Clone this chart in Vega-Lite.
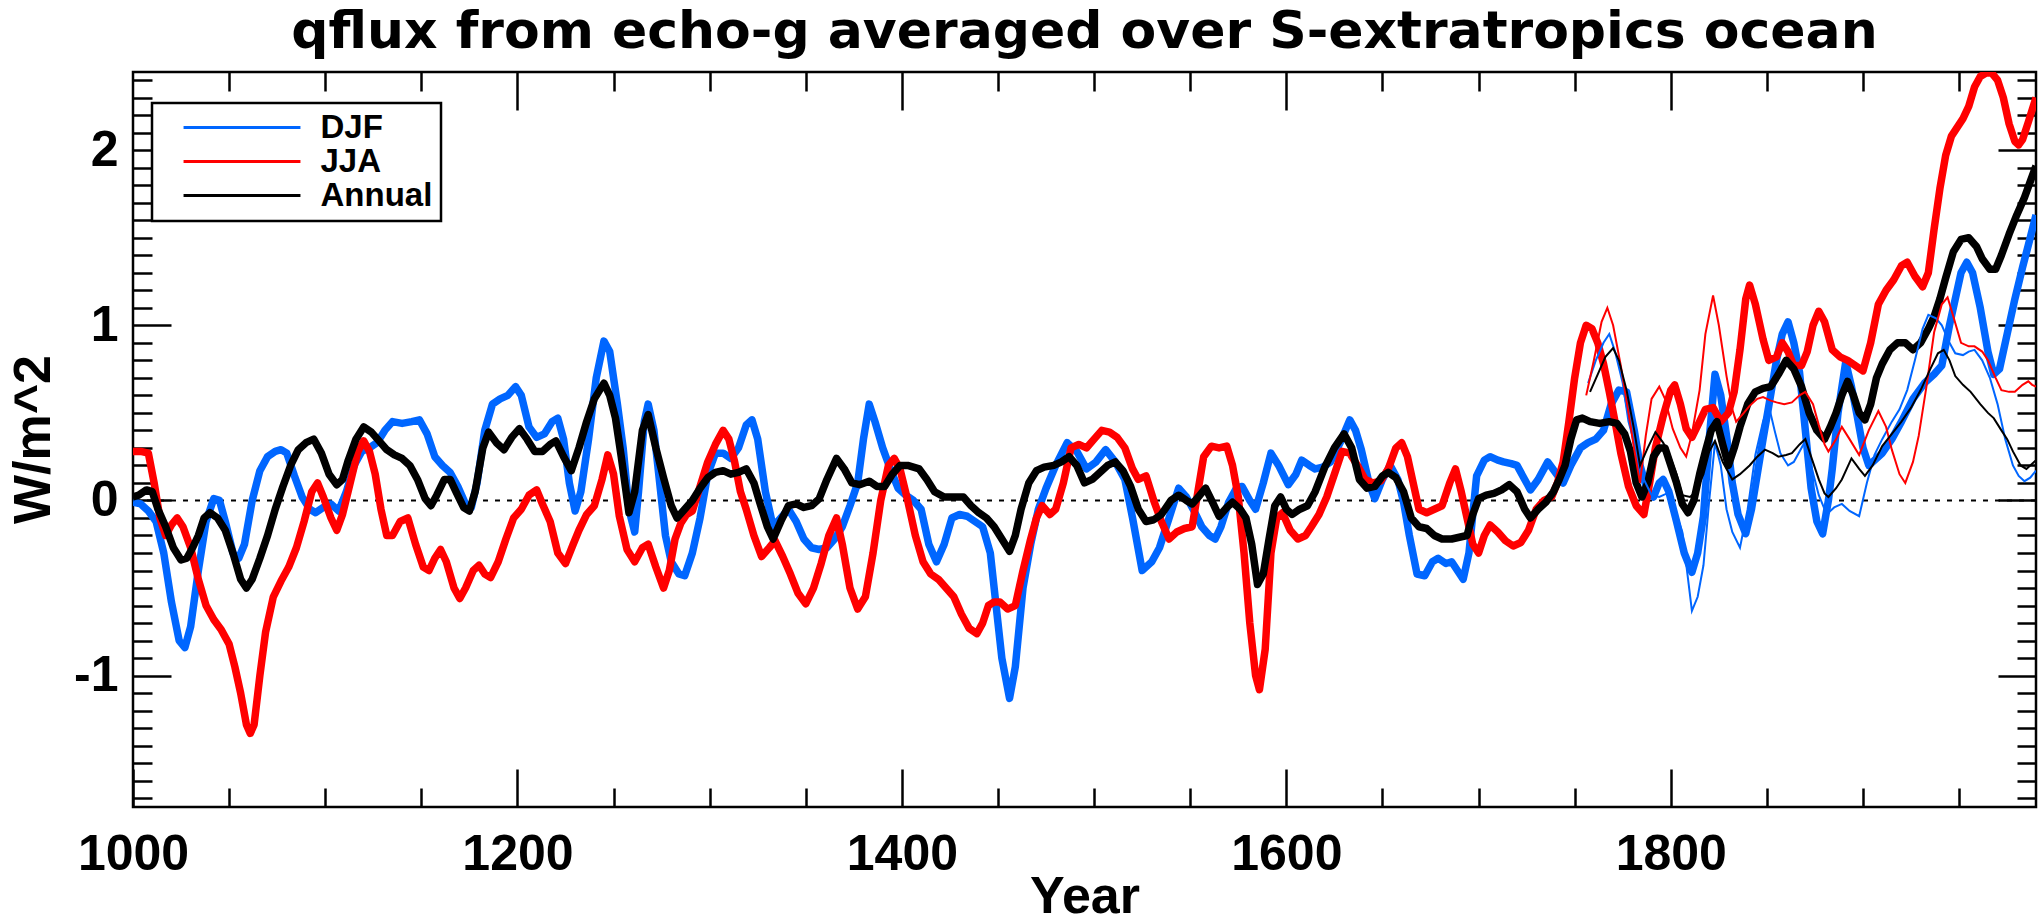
{
"$schema": "https://vega.github.io/schema/vega-lite/v6.json",
"width": 1903, "height": 735,
"autosize": {"type": "none"},
"padding": {"left": 133, "top": 72, "right": 3, "bottom": 117},
"background": "white",
"config": {"view": {"stroke": "black", "strokeWidth": 2.5}, "font": "Liberation Sans", "legend": {"strokeWidth": 2.5}},
"title": {"text": "qflux from echo-g averaged over S-extratropics ocean", "font": "DejaVu Sans", "fontWeight": "bold", "fontSize": 52, "anchor": "middle", "baseline": "alphabetic", "offset": -29, "frame": "group", "color": "black"},
"datasets": {
"series": [
{"season":"DJF","kind":"full","year":1000,"value":-0.01},{"season":"DJF","kind":"full","year":1004,"value":-0.02},{"season":"DJF","kind":"full","year":1008,"value":-0.06},{"season":"DJF","kind":"full","year":1012,"value":-0.12},{"season":"DJF","kind":"full","year":1016,"value":-0.3},{"season":"DJF","kind":"full","year":1020,"value":-0.58},{"season":"DJF","kind":"full","year":1024,"value":-0.8},{"season":"DJF","kind":"full","year":1027,"value":-0.84},{"season":"DJF","kind":"full","year":1030,"value":-0.72},{"season":"DJF","kind":"full","year":1034,"value":-0.4},{"season":"DJF","kind":"full","year":1038,"value":-0.12},{"season":"DJF","kind":"full","year":1042,"value":0.01},{"season":"DJF","kind":"full","year":1045,"value":0.0},{"season":"DJF","kind":"full","year":1048,"value":-0.12},{"season":"DJF","kind":"full","year":1052,"value":-0.3},{"season":"DJF","kind":"full","year":1055,"value":-0.33},{"season":"DJF","kind":"full","year":1058,"value":-0.25},{"season":"DJF","kind":"full","year":1062,"value":0.0},{"season":"DJF","kind":"full","year":1066,"value":0.17},{"season":"DJF","kind":"full","year":1070,"value":0.25},{"season":"DJF","kind":"full","year":1074,"value":0.28},{"season":"DJF","kind":"full","year":1077,"value":0.29},{"season":"DJF","kind":"full","year":1080,"value":0.27},{"season":"DJF","kind":"full","year":1084,"value":0.14},{"season":"DJF","kind":"full","year":1088,"value":0.02},{"season":"DJF","kind":"full","year":1092,"value":-0.05},{"season":"DJF","kind":"full","year":1095,"value":-0.07},{"season":"DJF","kind":"full","year":1099,"value":-0.04},{"season":"DJF","kind":"full","year":1103,"value":-0.02},{"season":"DJF","kind":"full","year":1107,"value":-0.06},{"season":"DJF","kind":"full","year":1111,"value":0.05},{"season":"DJF","kind":"full","year":1115,"value":0.2},{"season":"DJF","kind":"full","year":1119,"value":0.28},{"season":"DJF","kind":"full","year":1123,"value":0.3},{"season":"DJF","kind":"full","year":1127,"value":0.33},{"season":"DJF","kind":"full","year":1131,"value":0.4},{"season":"DJF","kind":"full","year":1135,"value":0.45},{"season":"DJF","kind":"full","year":1140,"value":0.44},{"season":"DJF","kind":"full","year":1145,"value":0.45},{"season":"DJF","kind":"full","year":1149,"value":0.46},{"season":"DJF","kind":"full","year":1153,"value":0.38},{"season":"DJF","kind":"full","year":1157,"value":0.25},{"season":"DJF","kind":"full","year":1161,"value":0.2},{"season":"DJF","kind":"full","year":1165,"value":0.16},{"season":"DJF","kind":"full","year":1169,"value":0.08},{"season":"DJF","kind":"full","year":1173,"value":-0.02},{"season":"DJF","kind":"full","year":1176,"value":-0.04},{"season":"DJF","kind":"full","year":1179,"value":0.1},{"season":"DJF","kind":"full","year":1183,"value":0.4},{"season":"DJF","kind":"full","year":1187,"value":0.55},{"season":"DJF","kind":"full","year":1191,"value":0.58},{"season":"DJF","kind":"full","year":1195,"value":0.6},{"season":"DJF","kind":"full","year":1199,"value":0.65},{"season":"DJF","kind":"full","year":1202,"value":0.6},{"season":"DJF","kind":"full","year":1206,"value":0.42},{"season":"DJF","kind":"full","year":1210,"value":0.36},{"season":"DJF","kind":"full","year":1214,"value":0.38},{"season":"DJF","kind":"full","year":1218,"value":0.45},{"season":"DJF","kind":"full","year":1221,"value":0.47},{"season":"DJF","kind":"full","year":1224,"value":0.35},{"season":"DJF","kind":"full","year":1227,"value":0.1},{"season":"DJF","kind":"full","year":1230,"value":-0.06},{"season":"DJF","kind":"full","year":1233,"value":0.05},{"season":"DJF","kind":"full","year":1237,"value":0.35},{"season":"DJF","kind":"full","year":1241,"value":0.7},{"season":"DJF","kind":"full","year":1245,"value":0.91},{"season":"DJF","kind":"full","year":1248,"value":0.85},{"season":"DJF","kind":"full","year":1252,"value":0.55},{"season":"DJF","kind":"full","year":1255,"value":0.3},{"season":"DJF","kind":"full","year":1258,"value":-0.05},{"season":"DJF","kind":"full","year":1261,"value":-0.18},{"season":"DJF","kind":"full","year":1263,"value":0.05},{"season":"DJF","kind":"full","year":1266,"value":0.45},{"season":"DJF","kind":"full","year":1268,"value":0.55},{"season":"DJF","kind":"full","year":1271,"value":0.4},{"season":"DJF","kind":"full","year":1274,"value":0.1},{"season":"DJF","kind":"full","year":1277,"value":-0.2},{"season":"DJF","kind":"full","year":1280,"value":-0.35},{"season":"DJF","kind":"full","year":1284,"value":-0.42},{"season":"DJF","kind":"full","year":1287,"value":-0.43},{"season":"DJF","kind":"full","year":1291,"value":-0.3},{"season":"DJF","kind":"full","year":1295,"value":-0.1},{"season":"DJF","kind":"full","year":1299,"value":0.15},{"season":"DJF","kind":"full","year":1303,"value":0.27},{"season":"DJF","kind":"full","year":1307,"value":0.27},{"season":"DJF","kind":"full","year":1311,"value":0.24},{"season":"DJF","kind":"full","year":1315,"value":0.3},{"season":"DJF","kind":"full","year":1319,"value":0.43},{"season":"DJF","kind":"full","year":1322,"value":0.46},{"season":"DJF","kind":"full","year":1325,"value":0.35},{"season":"DJF","kind":"full","year":1329,"value":0.05},{"season":"DJF","kind":"full","year":1333,"value":-0.15},{"season":"DJF","kind":"full","year":1337,"value":-0.1},{"season":"DJF","kind":"full","year":1341,"value":-0.05},{"season":"DJF","kind":"full","year":1345,"value":-0.12},{"season":"DJF","kind":"full","year":1349,"value":-0.22},{"season":"DJF","kind":"full","year":1353,"value":-0.27},{"season":"DJF","kind":"full","year":1357,"value":-0.28},{"season":"DJF","kind":"full","year":1361,"value":-0.27},{"season":"DJF","kind":"full","year":1365,"value":-0.22},{"season":"DJF","kind":"full","year":1369,"value":-0.15},{"season":"DJF","kind":"full","year":1373,"value":-0.03},{"season":"DJF","kind":"full","year":1377,"value":0.1},{"season":"DJF","kind":"full","year":1380,"value":0.35},{"season":"DJF","kind":"full","year":1383,"value":0.55},{"season":"DJF","kind":"full","year":1386,"value":0.45},{"season":"DJF","kind":"full","year":1390,"value":0.3},{"season":"DJF","kind":"full","year":1394,"value":0.18},{"season":"DJF","kind":"full","year":1398,"value":0.07},{"season":"DJF","kind":"full","year":1402,"value":0.03},{"season":"DJF","kind":"full","year":1406,"value":0.0},{"season":"DJF","kind":"full","year":1410,"value":-0.05},{"season":"DJF","kind":"full","year":1414,"value":-0.25},{"season":"DJF","kind":"full","year":1418,"value":-0.35},{"season":"DJF","kind":"full","year":1422,"value":-0.25},{"season":"DJF","kind":"full","year":1426,"value":-0.1},{"season":"DJF","kind":"full","year":1430,"value":-0.08},{"season":"DJF","kind":"full","year":1434,"value":-0.09},{"season":"DJF","kind":"full","year":1438,"value":-0.12},{"season":"DJF","kind":"full","year":1442,"value":-0.15},{"season":"DJF","kind":"full","year":1446,"value":-0.3},{"season":"DJF","kind":"full","year":1449,"value":-0.6},{"season":"DJF","kind":"full","year":1452,"value":-0.9},{"season":"DJF","kind":"full","year":1456,"value":-1.13},{"season":"DJF","kind":"full","year":1459,"value":-0.95},{"season":"DJF","kind":"full","year":1463,"value":-0.5},{"season":"DJF","kind":"full","year":1467,"value":-0.25},{"season":"DJF","kind":"full","year":1471,"value":-0.05},{"season":"DJF","kind":"full","year":1475,"value":0.07},{"season":"DJF","kind":"full","year":1480,"value":0.2},{"season":"DJF","kind":"full","year":1486,"value":0.33},{"season":"DJF","kind":"full","year":1491,"value":0.28},{"season":"DJF","kind":"full","year":1496,"value":0.18},{"season":"DJF","kind":"full","year":1501,"value":0.22},{"season":"DJF","kind":"full","year":1506,"value":0.29},{"season":"DJF","kind":"full","year":1511,"value":0.22},{"season":"DJF","kind":"full","year":1516,"value":0.12},{"season":"DJF","kind":"full","year":1520,"value":-0.1},{"season":"DJF","kind":"full","year":1525,"value":-0.4},{"season":"DJF","kind":"full","year":1530,"value":-0.35},{"season":"DJF","kind":"full","year":1534,"value":-0.27},{"season":"DJF","kind":"full","year":1539,"value":-0.1},{"season":"DJF","kind":"full","year":1544,"value":0.07},{"season":"DJF","kind":"full","year":1548,"value":0.02},{"season":"DJF","kind":"full","year":1552,"value":-0.06},{"season":"DJF","kind":"full","year":1556,"value":-0.15},{"season":"DJF","kind":"full","year":1560,"value":-0.2},{"season":"DJF","kind":"full","year":1563,"value":-0.22},{"season":"DJF","kind":"full","year":1566,"value":-0.15},{"season":"DJF","kind":"full","year":1570,"value":-0.01},{"season":"DJF","kind":"full","year":1574,"value":0.07},{"season":"DJF","kind":"full","year":1577,"value":0.08},{"season":"DJF","kind":"full","year":1581,"value":0.0},{"season":"DJF","kind":"full","year":1584,"value":-0.05},{"season":"DJF","kind":"full","year":1588,"value":0.1},{"season":"DJF","kind":"full","year":1592,"value":0.27},{"season":"DJF","kind":"full","year":1596,"value":0.2},{"season":"DJF","kind":"full","year":1601,"value":0.09},{"season":"DJF","kind":"full","year":1605,"value":0.15},{"season":"DJF","kind":"full","year":1608,"value":0.23},{"season":"DJF","kind":"full","year":1612,"value":0.2},{"season":"DJF","kind":"full","year":1615,"value":0.18},{"season":"DJF","kind":"full","year":1619,"value":0.19},{"season":"DJF","kind":"full","year":1623,"value":0.22},{"season":"DJF","kind":"full","year":1628,"value":0.33},{"season":"DJF","kind":"full","year":1633,"value":0.46},{"season":"DJF","kind":"full","year":1636,"value":0.4},{"season":"DJF","kind":"full","year":1639,"value":0.29},{"season":"DJF","kind":"full","year":1643,"value":0.1},{"season":"DJF","kind":"full","year":1646,"value":0.01},{"season":"DJF","kind":"full","year":1650,"value":0.12},{"season":"DJF","kind":"full","year":1654,"value":0.2},{"season":"DJF","kind":"full","year":1658,"value":0.12},{"season":"DJF","kind":"full","year":1661,"value":-0.01},{"season":"DJF","kind":"full","year":1664,"value":-0.2},{"season":"DJF","kind":"full","year":1668,"value":-0.42},{"season":"DJF","kind":"full","year":1672,"value":-0.43},{"season":"DJF","kind":"full","year":1676,"value":-0.35},{"season":"DJF","kind":"full","year":1679,"value":-0.33},{"season":"DJF","kind":"full","year":1683,"value":-0.36},{"season":"DJF","kind":"full","year":1686,"value":-0.35},{"season":"DJF","kind":"full","year":1689,"value":-0.4},{"season":"DJF","kind":"full","year":1692,"value":-0.45},{"season":"DJF","kind":"full","year":1695,"value":-0.3},{"season":"DJF","kind":"full","year":1699,"value":0.14},{"season":"DJF","kind":"full","year":1703,"value":0.23},{"season":"DJF","kind":"full","year":1706,"value":0.25},{"season":"DJF","kind":"full","year":1710,"value":0.23},{"season":"DJF","kind":"full","year":1713,"value":0.22},{"season":"DJF","kind":"full","year":1717,"value":0.21},{"season":"DJF","kind":"full","year":1720,"value":0.2},{"season":"DJF","kind":"full","year":1724,"value":0.12},{"season":"DJF","kind":"full","year":1727,"value":0.06},{"season":"DJF","kind":"full","year":1731,"value":0.12},{"season":"DJF","kind":"full","year":1736,"value":0.22},{"season":"DJF","kind":"full","year":1740,"value":0.16},{"season":"DJF","kind":"full","year":1744,"value":0.1},{"season":"DJF","kind":"full","year":1748,"value":0.2},{"season":"DJF","kind":"full","year":1753,"value":0.3},{"season":"DJF","kind":"full","year":1757,"value":0.33},{"season":"DJF","kind":"full","year":1761,"value":0.35},{"season":"DJF","kind":"full","year":1765,"value":0.4},{"season":"DJF","kind":"full","year":1769,"value":0.55},{"season":"DJF","kind":"full","year":1773,"value":0.63},{"season":"DJF","kind":"full","year":1777,"value":0.62},{"season":"DJF","kind":"full","year":1781,"value":0.4},{"season":"DJF","kind":"full","year":1784,"value":0.2},{"season":"DJF","kind":"full","year":1788,"value":0.05},{"season":"DJF","kind":"full","year":1791,"value":0.02},{"season":"DJF","kind":"full","year":1794,"value":0.1},{"season":"DJF","kind":"full","year":1796,"value":0.12},{"season":"DJF","kind":"full","year":1799,"value":0.05},{"season":"DJF","kind":"full","year":1803,"value":-0.12},{"season":"DJF","kind":"full","year":1807,"value":-0.3},{"season":"DJF","kind":"full","year":1811,"value":-0.41},{"season":"DJF","kind":"full","year":1814,"value":-0.3},{"season":"DJF","kind":"full","year":1817,"value":-0.09},{"season":"DJF","kind":"full","year":1820,"value":0.35},{"season":"DJF","kind":"full","year":1823,"value":0.72},{"season":"DJF","kind":"full","year":1826,"value":0.6},{"season":"DJF","kind":"full","year":1829,"value":0.37},{"season":"DJF","kind":"full","year":1832,"value":0.1},{"season":"DJF","kind":"full","year":1835,"value":-0.08},{"season":"DJF","kind":"full","year":1839,"value":-0.19},{"season":"DJF","kind":"full","year":1842,"value":-0.05},{"season":"DJF","kind":"full","year":1845,"value":0.15},{"season":"DJF","kind":"full","year":1848,"value":0.35},{"season":"DJF","kind":"full","year":1851,"value":0.54},{"season":"DJF","kind":"full","year":1855,"value":0.8},{"season":"DJF","kind":"full","year":1858,"value":0.95},{"season":"DJF","kind":"full","year":1861,"value":1.02},{"season":"DJF","kind":"full","year":1864,"value":0.9},{"season":"DJF","kind":"full","year":1867,"value":0.73},{"season":"DJF","kind":"full","year":1870,"value":0.4},{"season":"DJF","kind":"full","year":1873,"value":0.07},{"season":"DJF","kind":"full","year":1876,"value":-0.12},{"season":"DJF","kind":"full","year":1879,"value":-0.19},{"season":"DJF","kind":"full","year":1882,"value":0.0},{"season":"DJF","kind":"full","year":1884,"value":0.18},{"season":"DJF","kind":"full","year":1887,"value":0.5},{"season":"DJF","kind":"full","year":1891,"value":0.79},{"season":"DJF","kind":"full","year":1894,"value":0.65},{"season":"DJF","kind":"full","year":1897,"value":0.48},{"season":"DJF","kind":"full","year":1900,"value":0.3},{"season":"DJF","kind":"full","year":1903,"value":0.2},{"season":"DJF","kind":"full","year":1907,"value":0.24},{"season":"DJF","kind":"full","year":1910,"value":0.27},{"season":"DJF","kind":"full","year":1915,"value":0.35},{"season":"DJF","kind":"full","year":1920,"value":0.45},{"season":"DJF","kind":"full","year":1926,"value":0.58},{"season":"DJF","kind":"full","year":1932,"value":0.67},{"season":"DJF","kind":"full","year":1937,"value":0.72},{"season":"DJF","kind":"full","year":1941,"value":0.77},{"season":"DJF","kind":"full","year":1945,"value":1.0},{"season":"DJF","kind":"full","year":1948,"value":1.15},{"season":"DJF","kind":"full","year":1951,"value":1.3},{"season":"DJF","kind":"full","year":1954,"value":1.36},{"season":"DJF","kind":"full","year":1957,"value":1.3},{"season":"DJF","kind":"full","year":1961,"value":1.1},{"season":"DJF","kind":"full","year":1965,"value":0.85},{"season":"DJF","kind":"full","year":1968,"value":0.72},{"season":"DJF","kind":"full","year":1971,"value":0.75},{"season":"DJF","kind":"full","year":1975,"value":0.95},{"season":"DJF","kind":"full","year":1979,"value":1.15},{"season":"DJF","kind":"full","year":1983,"value":1.33},{"season":"DJF","kind":"full","year":1987,"value":1.5},{"season":"DJF","kind":"full","year":1990,"value":1.63},

{"season":"JJA","kind":"full","year":1000,"value":0.28},{"season":"JJA","kind":"full","year":1004,"value":0.28},{"season":"JJA","kind":"full","year":1008,"value":0.27},{"season":"JJA","kind":"full","year":1011,"value":0.1},{"season":"JJA","kind":"full","year":1014,"value":-0.1},{"season":"JJA","kind":"full","year":1017,"value":-0.2},{"season":"JJA","kind":"full","year":1020,"value":-0.14},{"season":"JJA","kind":"full","year":1023,"value":-0.1},{"season":"JJA","kind":"full","year":1026,"value":-0.15},{"season":"JJA","kind":"full","year":1030,"value":-0.27},{"season":"JJA","kind":"full","year":1034,"value":-0.45},{"season":"JJA","kind":"full","year":1038,"value":-0.6},{"season":"JJA","kind":"full","year":1042,"value":-0.68},{"season":"JJA","kind":"full","year":1046,"value":-0.74},{"season":"JJA","kind":"full","year":1050,"value":-0.82},{"season":"JJA","kind":"full","year":1053,"value":-0.95},{"season":"JJA","kind":"full","year":1056,"value":-1.1},{"season":"JJA","kind":"full","year":1059,"value":-1.28},{"season":"JJA","kind":"full","year":1061,"value":-1.33},{"season":"JJA","kind":"full","year":1063,"value":-1.28},{"season":"JJA","kind":"full","year":1066,"value":-1.0},{"season":"JJA","kind":"full","year":1069,"value":-0.75},{"season":"JJA","kind":"full","year":1073,"value":-0.55},{"season":"JJA","kind":"full","year":1077,"value":-0.46},{"season":"JJA","kind":"full","year":1081,"value":-0.38},{"season":"JJA","kind":"full","year":1085,"value":-0.27},{"season":"JJA","kind":"full","year":1089,"value":-0.12},{"season":"JJA","kind":"full","year":1093,"value":0.05},{"season":"JJA","kind":"full","year":1096,"value":0.1},{"season":"JJA","kind":"full","year":1099,"value":0.02},{"season":"JJA","kind":"full","year":1103,"value":-0.1},{"season":"JJA","kind":"full","year":1106,"value":-0.17},{"season":"JJA","kind":"full","year":1109,"value":-0.08},{"season":"JJA","kind":"full","year":1113,"value":0.1},{"season":"JJA","kind":"full","year":1117,"value":0.28},{"season":"JJA","kind":"full","year":1120,"value":0.34},{"season":"JJA","kind":"full","year":1123,"value":0.28},{"season":"JJA","kind":"full","year":1126,"value":0.15},{"season":"JJA","kind":"full","year":1129,"value":-0.05},{"season":"JJA","kind":"full","year":1132,"value":-0.2},{"season":"JJA","kind":"full","year":1135,"value":-0.2},{"season":"JJA","kind":"full","year":1139,"value":-0.12},{"season":"JJA","kind":"full","year":1143,"value":-0.1},{"season":"JJA","kind":"full","year":1147,"value":-0.25},{"season":"JJA","kind":"full","year":1151,"value":-0.38},{"season":"JJA","kind":"full","year":1154,"value":-0.4},{"season":"JJA","kind":"full","year":1157,"value":-0.33},{"season":"JJA","kind":"full","year":1160,"value":-0.28},{"season":"JJA","kind":"full","year":1163,"value":-0.35},{"season":"JJA","kind":"full","year":1167,"value":-0.5},{"season":"JJA","kind":"full","year":1170,"value":-0.56},{"season":"JJA","kind":"full","year":1173,"value":-0.5},{"season":"JJA","kind":"full","year":1177,"value":-0.4},{"season":"JJA","kind":"full","year":1180,"value":-0.37},{"season":"JJA","kind":"full","year":1183,"value":-0.42},{"season":"JJA","kind":"full","year":1186,"value":-0.44},{"season":"JJA","kind":"full","year":1190,"value":-0.35},{"season":"JJA","kind":"full","year":1194,"value":-0.22},{"season":"JJA","kind":"full","year":1198,"value":-0.1},{"season":"JJA","kind":"full","year":1202,"value":-0.05},{"season":"JJA","kind":"full","year":1206,"value":0.03},{"season":"JJA","kind":"full","year":1210,"value":0.06},{"season":"JJA","kind":"full","year":1213,"value":-0.02},{"season":"JJA","kind":"full","year":1217,"value":-0.12},{"season":"JJA","kind":"full","year":1221,"value":-0.3},{"season":"JJA","kind":"full","year":1225,"value":-0.36},{"season":"JJA","kind":"full","year":1229,"value":-0.25},{"season":"JJA","kind":"full","year":1232,"value":-0.17},{"season":"JJA","kind":"full","year":1236,"value":-0.08},{"season":"JJA","kind":"full","year":1240,"value":-0.03},{"season":"JJA","kind":"full","year":1244,"value":0.12},{"season":"JJA","kind":"full","year":1247,"value":0.26},{"season":"JJA","kind":"full","year":1250,"value":0.15},{"season":"JJA","kind":"full","year":1253,"value":-0.09},{"season":"JJA","kind":"full","year":1257,"value":-0.28},{"season":"JJA","kind":"full","year":1261,"value":-0.35},{"season":"JJA","kind":"full","year":1265,"value":-0.27},{"season":"JJA","kind":"full","year":1268,"value":-0.25},{"season":"JJA","kind":"full","year":1272,"value":-0.38},{"season":"JJA","kind":"full","year":1276,"value":-0.5},{"season":"JJA","kind":"full","year":1279,"value":-0.4},{"season":"JJA","kind":"full","year":1282,"value":-0.22},{"season":"JJA","kind":"full","year":1285,"value":-0.13},{"season":"JJA","kind":"full","year":1288,"value":-0.08},{"season":"JJA","kind":"full","year":1291,"value":-0.06},{"season":"JJA","kind":"full","year":1295,"value":0.08},{"season":"JJA","kind":"full","year":1299,"value":0.22},{"season":"JJA","kind":"full","year":1303,"value":0.32},{"season":"JJA","kind":"full","year":1307,"value":0.4},{"season":"JJA","kind":"full","year":1310,"value":0.35},{"season":"JJA","kind":"full","year":1313,"value":0.22},{"season":"JJA","kind":"full","year":1316,"value":0.05},{"season":"JJA","kind":"full","year":1319,"value":-0.05},{"season":"JJA","kind":"full","year":1323,"value":-0.2},{"season":"JJA","kind":"full","year":1327,"value":-0.32},{"season":"JJA","kind":"full","year":1331,"value":-0.27},{"season":"JJA","kind":"full","year":1334,"value":-0.23},{"season":"JJA","kind":"full","year":1338,"value":-0.32},{"season":"JJA","kind":"full","year":1342,"value":-0.42},{"season":"JJA","kind":"full","year":1346,"value":-0.53},{"season":"JJA","kind":"full","year":1350,"value":-0.59},{"season":"JJA","kind":"full","year":1354,"value":-0.5},{"season":"JJA","kind":"full","year":1358,"value":-0.36},{"season":"JJA","kind":"full","year":1362,"value":-0.2},{"season":"JJA","kind":"full","year":1366,"value":-0.1},{"season":"JJA","kind":"full","year":1369,"value":-0.25},{"season":"JJA","kind":"full","year":1373,"value":-0.5},{"season":"JJA","kind":"full","year":1377,"value":-0.62},{"season":"JJA","kind":"full","year":1381,"value":-0.55},{"season":"JJA","kind":"full","year":1385,"value":-0.3},{"season":"JJA","kind":"full","year":1389,"value":0.0},{"season":"JJA","kind":"full","year":1393,"value":0.2},{"season":"JJA","kind":"full","year":1396,"value":0.24},{"season":"JJA","kind":"full","year":1399,"value":0.18},{"season":"JJA","kind":"full","year":1403,"value":0.0},{"season":"JJA","kind":"full","year":1407,"value":-0.2},{"season":"JJA","kind":"full","year":1411,"value":-0.35},{"season":"JJA","kind":"full","year":1415,"value":-0.42},{"season":"JJA","kind":"full","year":1419,"value":-0.45},{"season":"JJA","kind":"full","year":1423,"value":-0.5},{"season":"JJA","kind":"full","year":1427,"value":-0.55},{"season":"JJA","kind":"full","year":1431,"value":-0.65},{"season":"JJA","kind":"full","year":1435,"value":-0.73},{"season":"JJA","kind":"full","year":1439,"value":-0.76},{"season":"JJA","kind":"full","year":1442,"value":-0.7},{"season":"JJA","kind":"full","year":1445,"value":-0.6},{"season":"JJA","kind":"full","year":1448,"value":-0.58},{"season":"JJA","kind":"full","year":1451,"value":-0.58},{"season":"JJA","kind":"full","year":1455,"value":-0.62},{"season":"JJA","kind":"full","year":1459,"value":-0.6},{"season":"JJA","kind":"full","year":1463,"value":-0.4},{"season":"JJA","kind":"full","year":1467,"value":-0.22},{"season":"JJA","kind":"full","year":1470,"value":-0.1},{"season":"JJA","kind":"full","year":1473,"value":-0.03},{"season":"JJA","kind":"full","year":1477,"value":-0.08},{"season":"JJA","kind":"full","year":1480,"value":-0.05},{"season":"JJA","kind":"full","year":1484,"value":0.1},{"season":"JJA","kind":"full","year":1488,"value":0.3},{"season":"JJA","kind":"full","year":1492,"value":0.32},{"season":"JJA","kind":"full","year":1496,"value":0.3},{"season":"JJA","kind":"full","year":1500,"value":0.35},{"season":"JJA","kind":"full","year":1504,"value":0.4},{"season":"JJA","kind":"full","year":1508,"value":0.39},{"season":"JJA","kind":"full","year":1512,"value":0.36},{"season":"JJA","kind":"full","year":1516,"value":0.3},{"season":"JJA","kind":"full","year":1520,"value":0.18},{"season":"JJA","kind":"full","year":1523,"value":0.12},{"season":"JJA","kind":"full","year":1527,"value":0.14},{"season":"JJA","kind":"full","year":1531,"value":0.0},{"season":"JJA","kind":"full","year":1535,"value":-0.12},{"season":"JJA","kind":"full","year":1539,"value":-0.22},{"season":"JJA","kind":"full","year":1543,"value":-0.18},{"season":"JJA","kind":"full","year":1547,"value":-0.16},{"season":"JJA","kind":"full","year":1551,"value":-0.15},{"season":"JJA","kind":"full","year":1554,"value":0.05},{"season":"JJA","kind":"full","year":1557,"value":0.25},{"season":"JJA","kind":"full","year":1561,"value":0.31},{"season":"JJA","kind":"full","year":1565,"value":0.3},{"season":"JJA","kind":"full","year":1569,"value":0.31},{"season":"JJA","kind":"full","year":1572,"value":0.2},{"season":"JJA","kind":"full","year":1575,"value":0.02},{"season":"JJA","kind":"full","year":1578,"value":-0.3},{"season":"JJA","kind":"full","year":1581,"value":-0.7},{"season":"JJA","kind":"full","year":1584,"value":-1.0},{"season":"JJA","kind":"full","year":1586,"value":-1.08},{"season":"JJA","kind":"full","year":1589,"value":-0.85},{"season":"JJA","kind":"full","year":1592,"value":-0.3},{"season":"JJA","kind":"full","year":1595,"value":-0.1},{"season":"JJA","kind":"full","year":1598,"value":-0.07},{"season":"JJA","kind":"full","year":1602,"value":-0.17},{"season":"JJA","kind":"full","year":1606,"value":-0.22},{"season":"JJA","kind":"full","year":1610,"value":-0.2},{"season":"JJA","kind":"full","year":1613,"value":-0.15},{"season":"JJA","kind":"full","year":1617,"value":-0.08},{"season":"JJA","kind":"full","year":1621,"value":0.02},{"season":"JJA","kind":"full","year":1625,"value":0.15},{"season":"JJA","kind":"full","year":1629,"value":0.28},{"season":"JJA","kind":"full","year":1633,"value":0.27},{"season":"JJA","kind":"full","year":1637,"value":0.2},{"season":"JJA","kind":"full","year":1641,"value":0.12},{"season":"JJA","kind":"full","year":1645,"value":0.1},{"season":"JJA","kind":"full","year":1649,"value":0.11},{"season":"JJA","kind":"full","year":1653,"value":0.18},{"season":"JJA","kind":"full","year":1657,"value":0.3},{"season":"JJA","kind":"full","year":1660,"value":0.33},{"season":"JJA","kind":"full","year":1663,"value":0.25},{"season":"JJA","kind":"full","year":1666,"value":0.1},{"season":"JJA","kind":"full","year":1669,"value":-0.05},{"season":"JJA","kind":"full","year":1673,"value":-0.07},{"season":"JJA","kind":"full","year":1677,"value":-0.05},{"season":"JJA","kind":"full","year":1681,"value":-0.03},{"season":"JJA","kind":"full","year":1685,"value":0.1},{"season":"JJA","kind":"full","year":1688,"value":0.18},{"season":"JJA","kind":"full","year":1691,"value":0.05},{"season":"JJA","kind":"full","year":1694,"value":-0.1},{"season":"JJA","kind":"full","year":1697,"value":-0.25},{"season":"JJA","kind":"full","year":1700,"value":-0.3},{"season":"JJA","kind":"full","year":1703,"value":-0.2},{"season":"JJA","kind":"full","year":1706,"value":-0.14},{"season":"JJA","kind":"full","year":1710,"value":-0.18},{"season":"JJA","kind":"full","year":1714,"value":-0.23},{"season":"JJA","kind":"full","year":1718,"value":-0.26},{"season":"JJA","kind":"full","year":1722,"value":-0.24},{"season":"JJA","kind":"full","year":1726,"value":-0.17},{"season":"JJA","kind":"full","year":1730,"value":-0.05},{"season":"JJA","kind":"full","year":1734,"value":0.0},{"season":"JJA","kind":"full","year":1738,"value":0.02},{"season":"JJA","kind":"full","year":1741,"value":0.1},{"season":"JJA","kind":"full","year":1744,"value":0.22},{"season":"JJA","kind":"full","year":1747,"value":0.45},{"season":"JJA","kind":"full","year":1750,"value":0.7},{"season":"JJA","kind":"full","year":1753,"value":0.9},{"season":"JJA","kind":"full","year":1756,"value":1.0},{"season":"JJA","kind":"full","year":1759,"value":0.98},{"season":"JJA","kind":"full","year":1762,"value":0.9},{"season":"JJA","kind":"full","year":1765,"value":0.78},{"season":"JJA","kind":"full","year":1768,"value":0.62},{"season":"JJA","kind":"full","year":1771,"value":0.45},{"season":"JJA","kind":"full","year":1774,"value":0.27},{"season":"JJA","kind":"full","year":1778,"value":0.08},{"season":"JJA","kind":"full","year":1782,"value":-0.03},{"season":"JJA","kind":"full","year":1786,"value":-0.08},{"season":"JJA","kind":"full","year":1789,"value":0.1},{"season":"JJA","kind":"full","year":1792,"value":0.3},{"season":"JJA","kind":"full","year":1796,"value":0.48},{"season":"JJA","kind":"full","year":1800,"value":0.63},{"season":"JJA","kind":"full","year":1802,"value":0.66},{"season":"JJA","kind":"full","year":1805,"value":0.55},{"season":"JJA","kind":"full","year":1808,"value":0.41},{"season":"JJA","kind":"full","year":1811,"value":0.36},{"season":"JJA","kind":"full","year":1815,"value":0.45},{"season":"JJA","kind":"full","year":1818,"value":0.52},{"season":"JJA","kind":"full","year":1822,"value":0.53},{"season":"JJA","kind":"full","year":1826,"value":0.45},{"season":"JJA","kind":"full","year":1830,"value":0.5},{"season":"JJA","kind":"full","year":1833,"value":0.62},{"season":"JJA","kind":"full","year":1836,"value":0.86},{"season":"JJA","kind":"full","year":1839,"value":1.15},{"season":"JJA","kind":"full","year":1841,"value":1.23},{"season":"JJA","kind":"full","year":1844,"value":1.12},{"season":"JJA","kind":"full","year":1848,"value":0.92},{"season":"JJA","kind":"full","year":1851,"value":0.8},{"season":"JJA","kind":"full","year":1855,"value":0.82},{"season":"JJA","kind":"full","year":1858,"value":0.9},{"season":"JJA","kind":"full","year":1861,"value":0.85},{"season":"JJA","kind":"full","year":1864,"value":0.77},{"season":"JJA","kind":"full","year":1868,"value":0.77},{"season":"JJA","kind":"full","year":1871,"value":0.85},{"season":"JJA","kind":"full","year":1874,"value":1.0},{"season":"JJA","kind":"full","year":1877,"value":1.08},{"season":"JJA","kind":"full","year":1880,"value":1.02},{"season":"JJA","kind":"full","year":1884,"value":0.86},{"season":"JJA","kind":"full","year":1888,"value":0.82},{"season":"JJA","kind":"full","year":1892,"value":0.8},{"season":"JJA","kind":"full","year":1896,"value":0.77},{"season":"JJA","kind":"full","year":1900,"value":0.74},{"season":"JJA","kind":"full","year":1904,"value":0.9},{"season":"JJA","kind":"full","year":1908,"value":1.12},{"season":"JJA","kind":"full","year":1912,"value":1.2},{"season":"JJA","kind":"full","year":1916,"value":1.26},{"season":"JJA","kind":"full","year":1920,"value":1.34},{"season":"JJA","kind":"full","year":1923,"value":1.36},{"season":"JJA","kind":"full","year":1927,"value":1.28},{"season":"JJA","kind":"full","year":1931,"value":1.22},{"season":"JJA","kind":"full","year":1934,"value":1.3},{"season":"JJA","kind":"full","year":1937,"value":1.55},{"season":"JJA","kind":"full","year":1940,"value":1.78},{"season":"JJA","kind":"full","year":1943,"value":1.97},{"season":"JJA","kind":"full","year":1946,"value":2.08},{"season":"JJA","kind":"full","year":1949,"value":2.13},{"season":"JJA","kind":"full","year":1952,"value":2.18},{"season":"JJA","kind":"full","year":1955,"value":2.25},{"season":"JJA","kind":"full","year":1958,"value":2.36},{"season":"JJA","kind":"full","year":1961,"value":2.42},{"season":"JJA","kind":"full","year":1964,"value":2.44},{"season":"JJA","kind":"full","year":1967,"value":2.44},{"season":"JJA","kind":"full","year":1970,"value":2.4},{"season":"JJA","kind":"full","year":1973,"value":2.3},{"season":"JJA","kind":"full","year":1976,"value":2.15},{"season":"JJA","kind":"full","year":1979,"value":2.05},{"season":"JJA","kind":"full","year":1981,"value":2.03},{"season":"JJA","kind":"full","year":1983,"value":2.06},{"season":"JJA","kind":"full","year":1986,"value":2.16},{"season":"JJA","kind":"full","year":1988,"value":2.23},{"season":"JJA","kind":"full","year":1990,"value":2.3},

{"season":"Annual","kind":"full","year":1000,"value":0.02},{"season":"Annual","kind":"full","year":1003,"value":0.03},{"season":"Annual","kind":"full","year":1007,"value":0.06},{"season":"Annual","kind":"full","year":1010,"value":0.05},{"season":"Annual","kind":"full","year":1013,"value":-0.05},{"season":"Annual","kind":"full","year":1017,"value":-0.15},{"season":"Annual","kind":"full","year":1021,"value":-0.27},{"season":"Annual","kind":"full","year":1025,"value":-0.34},{"season":"Annual","kind":"full","year":1028,"value":-0.33},{"season":"Annual","kind":"full","year":1031,"value":-0.27},{"season":"Annual","kind":"full","year":1034,"value":-0.2},{"season":"Annual","kind":"full","year":1037,"value":-0.1},{"season":"Annual","kind":"full","year":1040,"value":-0.07},{"season":"Annual","kind":"full","year":1044,"value":-0.1},{"season":"Annual","kind":"full","year":1048,"value":-0.17},{"season":"Annual","kind":"full","year":1052,"value":-0.3},{"season":"Annual","kind":"full","year":1056,"value":-0.45},{"season":"Annual","kind":"full","year":1059,"value":-0.5},{"season":"Annual","kind":"full","year":1062,"value":-0.45},{"season":"Annual","kind":"full","year":1066,"value":-0.33},{"season":"Annual","kind":"full","year":1070,"value":-0.2},{"season":"Annual","kind":"full","year":1074,"value":-0.05},{"season":"Annual","kind":"full","year":1078,"value":0.08},{"season":"Annual","kind":"full","year":1082,"value":0.2},{"season":"Annual","kind":"full","year":1086,"value":0.29},{"season":"Annual","kind":"full","year":1090,"value":0.33},{"season":"Annual","kind":"full","year":1094,"value":0.35},{"season":"Annual","kind":"full","year":1098,"value":0.27},{"season":"Annual","kind":"full","year":1102,"value":0.15},{"season":"Annual","kind":"full","year":1106,"value":0.09},{"season":"Annual","kind":"full","year":1109,"value":0.12},{"season":"Annual","kind":"full","year":1112,"value":0.23},{"season":"Annual","kind":"full","year":1116,"value":0.35},{"season":"Annual","kind":"full","year":1120,"value":0.42},{"season":"Annual","kind":"full","year":1124,"value":0.39},{"season":"Annual","kind":"full","year":1128,"value":0.34},{"season":"Annual","kind":"full","year":1132,"value":0.29},{"season":"Annual","kind":"full","year":1136,"value":0.26},{"season":"Annual","kind":"full","year":1140,"value":0.24},{"season":"Annual","kind":"full","year":1144,"value":0.2},{"season":"Annual","kind":"full","year":1148,"value":0.12},{"season":"Annual","kind":"full","year":1152,"value":0.01},{"season":"Annual","kind":"full","year":1155,"value":-0.03},{"season":"Annual","kind":"full","year":1158,"value":0.03},{"season":"Annual","kind":"full","year":1162,"value":0.12},{"season":"Annual","kind":"full","year":1165,"value":0.12},{"season":"Annual","kind":"full","year":1168,"value":0.05},{"season":"Annual","kind":"full","year":1172,"value":-0.04},{"season":"Annual","kind":"full","year":1175,"value":-0.06},{"season":"Annual","kind":"full","year":1178,"value":0.05},{"season":"Annual","kind":"full","year":1182,"value":0.3},{"season":"Annual","kind":"full","year":1185,"value":0.39},{"season":"Annual","kind":"full","year":1189,"value":0.33},{"season":"Annual","kind":"full","year":1193,"value":0.29},{"season":"Annual","kind":"full","year":1197,"value":0.36},{"season":"Annual","kind":"full","year":1201,"value":0.41},{"season":"Annual","kind":"full","year":1205,"value":0.35},{"season":"Annual","kind":"full","year":1209,"value":0.28},{"season":"Annual","kind":"full","year":1213,"value":0.28},{"season":"Annual","kind":"full","year":1217,"value":0.32},{"season":"Annual","kind":"full","year":1220,"value":0.34},{"season":"Annual","kind":"full","year":1224,"value":0.25},{"season":"Annual","kind":"full","year":1228,"value":0.17},{"season":"Annual","kind":"full","year":1232,"value":0.3},{"season":"Annual","kind":"full","year":1236,"value":0.45},{"season":"Annual","kind":"full","year":1240,"value":0.58},{"season":"Annual","kind":"full","year":1245,"value":0.67},{"season":"Annual","kind":"full","year":1248,"value":0.6},{"season":"Annual","kind":"full","year":1251,"value":0.47},{"season":"Annual","kind":"full","year":1254,"value":0.25},{"season":"Annual","kind":"full","year":1258,"value":-0.07},{"season":"Annual","kind":"full","year":1261,"value":0.05},{"season":"Annual","kind":"full","year":1265,"value":0.4},{"season":"Annual","kind":"full","year":1268,"value":0.49},{"season":"Annual","kind":"full","year":1272,"value":0.3},{"season":"Annual","kind":"full","year":1276,"value":0.13},{"season":"Annual","kind":"full","year":1280,"value":-0.03},{"season":"Annual","kind":"full","year":1283,"value":-0.1},{"season":"Annual","kind":"full","year":1287,"value":-0.05},{"season":"Annual","kind":"full","year":1291,"value":0.0},{"season":"Annual","kind":"full","year":1295,"value":0.07},{"season":"Annual","kind":"full","year":1299,"value":0.13},{"season":"Annual","kind":"full","year":1303,"value":0.16},{"season":"Annual","kind":"full","year":1307,"value":0.17},{"season":"Annual","kind":"full","year":1311,"value":0.15},{"season":"Annual","kind":"full","year":1315,"value":0.16},{"season":"Annual","kind":"full","year":1319,"value":0.18},{"season":"Annual","kind":"full","year":1323,"value":0.1},{"season":"Annual","kind":"full","year":1326,"value":-0.01},{"season":"Annual","kind":"full","year":1330,"value":-0.15},{"season":"Annual","kind":"full","year":1333,"value":-0.22},{"season":"Annual","kind":"full","year":1337,"value":-0.12},{"season":"Annual","kind":"full","year":1341,"value":-0.03},{"season":"Annual","kind":"full","year":1345,"value":-0.02},{"season":"Annual","kind":"full","year":1349,"value":-0.04},{"season":"Annual","kind":"full","year":1353,"value":-0.03},{"season":"Annual","kind":"full","year":1357,"value":0.01},{"season":"Annual","kind":"full","year":1361,"value":0.12},{"season":"Annual","kind":"full","year":1366,"value":0.24},{"season":"Annual","kind":"full","year":1370,"value":0.18},{"season":"Annual","kind":"full","year":1374,"value":0.1},{"season":"Annual","kind":"full","year":1378,"value":0.09},{"season":"Annual","kind":"full","year":1383,"value":0.11},{"season":"Annual","kind":"full","year":1387,"value":0.08},{"season":"Annual","kind":"full","year":1391,"value":0.08},{"season":"Annual","kind":"full","year":1395,"value":0.15},{"season":"Annual","kind":"full","year":1399,"value":0.2},{"season":"Annual","kind":"full","year":1403,"value":0.2},{"season":"Annual","kind":"full","year":1409,"value":0.18},{"season":"Annual","kind":"full","year":1413,"value":0.12},{"season":"Annual","kind":"full","year":1417,"value":0.05},{"season":"Annual","kind":"full","year":1422,"value":0.02},{"season":"Annual","kind":"full","year":1427,"value":0.02},{"season":"Annual","kind":"full","year":1432,"value":0.02},{"season":"Annual","kind":"full","year":1436,"value":-0.03},{"season":"Annual","kind":"full","year":1440,"value":-0.07},{"season":"Annual","kind":"full","year":1444,"value":-0.1},{"season":"Annual","kind":"full","year":1448,"value":-0.15},{"season":"Annual","kind":"full","year":1452,"value":-0.22},{"season":"Annual","kind":"full","year":1456,"value":-0.29},{"season":"Annual","kind":"full","year":1459,"value":-0.2},{"season":"Annual","kind":"full","year":1462,"value":-0.05},{"season":"Annual","kind":"full","year":1466,"value":0.1},{"season":"Annual","kind":"full","year":1470,"value":0.17},{"season":"Annual","kind":"full","year":1474,"value":0.19},{"season":"Annual","kind":"full","year":1479,"value":0.2},{"season":"Annual","kind":"full","year":1483,"value":0.22},{"season":"Annual","kind":"full","year":1487,"value":0.25},{"season":"Annual","kind":"full","year":1491,"value":0.2},{"season":"Annual","kind":"full","year":1495,"value":0.1},{"season":"Annual","kind":"full","year":1499,"value":0.12},{"season":"Annual","kind":"full","year":1503,"value":0.16},{"season":"Annual","kind":"full","year":1507,"value":0.2},{"season":"Annual","kind":"full","year":1511,"value":0.22},{"season":"Annual","kind":"full","year":1515,"value":0.17},{"season":"Annual","kind":"full","year":1519,"value":0.08},{"season":"Annual","kind":"full","year":1523,"value":-0.05},{"season":"Annual","kind":"full","year":1527,"value":-0.12},{"season":"Annual","kind":"full","year":1531,"value":-0.11},{"season":"Annual","kind":"full","year":1535,"value":-0.08},{"season":"Annual","kind":"full","year":1540,"value":0.0},{"season":"Annual","kind":"full","year":1544,"value":0.03},{"season":"Annual","kind":"full","year":1548,"value":0.0},{"season":"Annual","kind":"full","year":1551,"value":-0.02},{"season":"Annual","kind":"full","year":1555,"value":0.03},{"season":"Annual","kind":"full","year":1558,"value":0.07},{"season":"Annual","kind":"full","year":1562,"value":-0.02},{"season":"Annual","kind":"full","year":1565,"value":-0.09},{"season":"Annual","kind":"full","year":1569,"value":-0.04},{"season":"Annual","kind":"full","year":1572,"value":-0.01},{"season":"Annual","kind":"full","year":1576,"value":-0.05},{"season":"Annual","kind":"full","year":1579,"value":-0.1},{"season":"Annual","kind":"full","year":1582,"value":-0.25},{"season":"Annual","kind":"full","year":1585,"value":-0.48},{"season":"Annual","kind":"full","year":1588,"value":-0.42},{"season":"Annual","kind":"full","year":1591,"value":-0.22},{"season":"Annual","kind":"full","year":1594,"value":-0.03},{"season":"Annual","kind":"full","year":1597,"value":0.02},{"season":"Annual","kind":"full","year":1600,"value":-0.05},{"season":"Annual","kind":"full","year":1603,"value":-0.08},{"season":"Annual","kind":"full","year":1607,"value":-0.05},{"season":"Annual","kind":"full","year":1611,"value":-0.03},{"season":"Annual","kind":"full","year":1615,"value":0.05},{"season":"Annual","kind":"full","year":1620,"value":0.19},{"season":"Annual","kind":"full","year":1625,"value":0.3},{"season":"Annual","kind":"full","year":1630,"value":0.38},{"season":"Annual","kind":"full","year":1634,"value":0.3},{"season":"Annual","kind":"full","year":1638,"value":0.12},{"season":"Annual","kind":"full","year":1642,"value":0.07},{"season":"Annual","kind":"full","year":1646,"value":0.08},{"season":"Annual","kind":"full","year":1650,"value":0.14},{"season":"Annual","kind":"full","year":1653,"value":0.16},{"season":"Annual","kind":"full","year":1657,"value":0.13},{"season":"Annual","kind":"full","year":1661,"value":0.05},{"season":"Annual","kind":"full","year":1665,"value":-0.1},{"season":"Annual","kind":"full","year":1669,"value":-0.15},{"season":"Annual","kind":"full","year":1673,"value":-0.16},{"season":"Annual","kind":"full","year":1677,"value":-0.2},{"season":"Annual","kind":"full","year":1681,"value":-0.22},{"season":"Annual","kind":"full","year":1686,"value":-0.22},{"season":"Annual","kind":"full","year":1690,"value":-0.21},{"season":"Annual","kind":"full","year":1694,"value":-0.2},{"season":"Annual","kind":"full","year":1697,"value":-0.08},{"season":"Annual","kind":"full","year":1700,"value":0.01},{"season":"Annual","kind":"full","year":1704,"value":0.03},{"season":"Annual","kind":"full","year":1708,"value":0.04},{"season":"Annual","kind":"full","year":1712,"value":0.06},{"season":"Annual","kind":"full","year":1716,"value":0.09},{"season":"Annual","kind":"full","year":1720,"value":0.05},{"season":"Annual","kind":"full","year":1724,"value":-0.05},{"season":"Annual","kind":"full","year":1727,"value":-0.1},{"season":"Annual","kind":"full","year":1731,"value":-0.05},{"season":"Annual","kind":"full","year":1735,"value":-0.01},{"season":"Annual","kind":"full","year":1739,"value":0.05},{"season":"Annual","kind":"full","year":1742,"value":0.12},{"season":"Annual","kind":"full","year":1745,"value":0.2},{"season":"Annual","kind":"full","year":1748,"value":0.35},{"season":"Annual","kind":"full","year":1751,"value":0.46},{"season":"Annual","kind":"full","year":1754,"value":0.47},{"season":"Annual","kind":"full","year":1758,"value":0.45},{"season":"Annual","kind":"full","year":1763,"value":0.44},{"season":"Annual","kind":"full","year":1768,"value":0.45},{"season":"Annual","kind":"full","year":1772,"value":0.44},{"season":"Annual","kind":"full","year":1776,"value":0.38},{"season":"Annual","kind":"full","year":1779,"value":0.28},{"season":"Annual","kind":"full","year":1782,"value":0.1},{"season":"Annual","kind":"full","year":1785,"value":0.02},{"season":"Annual","kind":"full","year":1788,"value":0.1},{"season":"Annual","kind":"full","year":1791,"value":0.25},{"season":"Annual","kind":"full","year":1794,"value":0.3},{"season":"Annual","kind":"full","year":1797,"value":0.3},{"season":"Annual","kind":"full","year":1800,"value":0.2},{"season":"Annual","kind":"full","year":1803,"value":0.1},{"season":"Annual","kind":"full","year":1806,"value":-0.02},{"season":"Annual","kind":"full","year":1809,"value":-0.07},{"season":"Annual","kind":"full","year":1812,"value":0.0},{"season":"Annual","kind":"full","year":1815,"value":0.15},{"season":"Annual","kind":"full","year":1818,"value":0.28},{"season":"Annual","kind":"full","year":1821,"value":0.4},{"season":"Annual","kind":"full","year":1824,"value":0.45},{"season":"Annual","kind":"full","year":1827,"value":0.32},{"season":"Annual","kind":"full","year":1830,"value":0.2},{"season":"Annual","kind":"full","year":1833,"value":0.3},{"season":"Annual","kind":"full","year":1836,"value":0.42},{"season":"Annual","kind":"full","year":1840,"value":0.55},{"season":"Annual","kind":"full","year":1844,"value":0.62},{"season":"Annual","kind":"full","year":1848,"value":0.64},{"season":"Annual","kind":"full","year":1852,"value":0.65},{"season":"Annual","kind":"full","year":1856,"value":0.72},{"season":"Annual","kind":"full","year":1860,"value":0.8},{"season":"Annual","kind":"full","year":1864,"value":0.75},{"season":"Annual","kind":"full","year":1868,"value":0.65},{"season":"Annual","kind":"full","year":1872,"value":0.5},{"season":"Annual","kind":"full","year":1876,"value":0.4},{"season":"Annual","kind":"full","year":1880,"value":0.35},{"season":"Annual","kind":"full","year":1883,"value":0.42},{"season":"Annual","kind":"full","year":1886,"value":0.5},{"season":"Annual","kind":"full","year":1889,"value":0.6},{"season":"Annual","kind":"full","year":1892,"value":0.68},{"season":"Annual","kind":"full","year":1895,"value":0.6},{"season":"Annual","kind":"full","year":1898,"value":0.5},{"season":"Annual","kind":"full","year":1901,"value":0.46},{"season":"Annual","kind":"full","year":1904,"value":0.55},{"season":"Annual","kind":"full","year":1907,"value":0.7},{"season":"Annual","kind":"full","year":1910,"value":0.78},{"season":"Annual","kind":"full","year":1914,"value":0.86},{"season":"Annual","kind":"full","year":1918,"value":0.9},{"season":"Annual","kind":"full","year":1922,"value":0.9},{"season":"Annual","kind":"full","year":1926,"value":0.86},{"season":"Annual","kind":"full","year":1930,"value":0.9},{"season":"Annual","kind":"full","year":1934,"value":0.98},{"season":"Annual","kind":"full","year":1937,"value":1.05},{"season":"Annual","kind":"full","year":1940,"value":1.15},{"season":"Annual","kind":"full","year":1943,"value":1.27},{"season":"Annual","kind":"full","year":1947,"value":1.42},{"season":"Annual","kind":"full","year":1951,"value":1.49},{"season":"Annual","kind":"full","year":1955,"value":1.5},{"season":"Annual","kind":"full","year":1959,"value":1.45},{"season":"Annual","kind":"full","year":1962,"value":1.38},{"season":"Annual","kind":"full","year":1966,"value":1.32},{"season":"Annual","kind":"full","year":1969,"value":1.32},{"season":"Annual","kind":"full","year":1972,"value":1.4},{"season":"Annual","kind":"full","year":1976,"value":1.52},{"season":"Annual","kind":"full","year":1980,"value":1.63},{"season":"Annual","kind":"full","year":1984,"value":1.73},{"season":"Annual","kind":"full","year":1987,"value":1.82},{"season":"Annual","kind":"full","year":1990,"value":1.91},

{"season":"DJF","kind":"late","year":1757,"value":0.67},{"season":"DJF","kind":"late","year":1761,"value":0.8},{"season":"DJF","kind":"late","year":1765,"value":0.9},{"season":"DJF","kind":"late","year":1768,"value":0.95},{"season":"DJF","kind":"late","year":1771,"value":0.85},{"season":"DJF","kind":"late","year":1775,"value":0.67},{"season":"DJF","kind":"late","year":1778,"value":0.45},{"season":"DJF","kind":"late","year":1782,"value":0.29},{"season":"DJF","kind":"late","year":1786,"value":0.12},{"season":"DJF","kind":"late","year":1790,"value":0.03},{"season":"DJF","kind":"late","year":1794,"value":0.02},{"season":"DJF","kind":"late","year":1798,"value":0.04},{"season":"DJF","kind":"late","year":1802,"value":-0.05},{"season":"DJF","kind":"late","year":1806,"value":-0.18},{"season":"DJF","kind":"late","year":1809,"value":-0.45},{"season":"DJF","kind":"late","year":1811,"value":-0.63},{"season":"DJF","kind":"late","year":1814,"value":-0.55},{"season":"DJF","kind":"late","year":1817,"value":-0.37},{"season":"DJF","kind":"late","year":1820,"value":0.0},{"season":"DJF","kind":"late","year":1823,"value":0.33},{"season":"DJF","kind":"late","year":1826,"value":0.2},{"season":"DJF","kind":"late","year":1829,"value":-0.05},{"season":"DJF","kind":"late","year":1832,"value":-0.18},{"season":"DJF","kind":"late","year":1836,"value":-0.27},{"season":"DJF","kind":"late","year":1840,"value":-0.05},{"season":"DJF","kind":"late","year":1844,"value":0.26},{"season":"DJF","kind":"late","year":1848,"value":0.45},{"season":"DJF","kind":"late","year":1851,"value":0.54},{"season":"DJF","kind":"late","year":1854,"value":0.4},{"season":"DJF","kind":"late","year":1857,"value":0.27},{"season":"DJF","kind":"late","year":1861,"value":0.2},{"season":"DJF","kind":"late","year":1864,"value":0.22},{"season":"DJF","kind":"late","year":1867,"value":0.28},{"season":"DJF","kind":"late","year":1870,"value":0.34},{"season":"DJF","kind":"late","year":1873,"value":0.2},{"season":"DJF","kind":"late","year":1877,"value":0.03},{"season":"DJF","kind":"late","year":1880,"value":-0.05},{"season":"DJF","kind":"late","year":1882,"value":-0.07},{"season":"DJF","kind":"late","year":1885,"value":-0.04},{"season":"DJF","kind":"late","year":1889,"value":-0.02},{"season":"DJF","kind":"late","year":1893,"value":-0.06},{"season":"DJF","kind":"late","year":1898,"value":-0.09},{"season":"DJF","kind":"late","year":1902,"value":0.1},{"season":"DJF","kind":"late","year":1906,"value":0.26},{"season":"DJF","kind":"late","year":1910,"value":0.35},{"season":"DJF","kind":"late","year":1915,"value":0.45},{"season":"DJF","kind":"late","year":1919,"value":0.52},{"season":"DJF","kind":"late","year":1923,"value":0.63},{"season":"DJF","kind":"late","year":1927,"value":0.8},{"season":"DJF","kind":"late","year":1931,"value":0.98},{"season":"DJF","kind":"late","year":1934,"value":1.06},{"season":"DJF","kind":"late","year":1938,"value":1.04},{"season":"DJF","kind":"late","year":1941,"value":1.0},{"season":"DJF","kind":"late","year":1945,"value":0.9},{"season":"DJF","kind":"late","year":1948,"value":0.84},{"season":"DJF","kind":"late","year":1952,"value":0.83},{"season":"DJF","kind":"late","year":1955,"value":0.85},{"season":"DJF","kind":"late","year":1958,"value":0.86},{"season":"DJF","kind":"late","year":1962,"value":0.8},{"season":"DJF","kind":"late","year":1966,"value":0.7},{"season":"DJF","kind":"late","year":1970,"value":0.55},{"season":"DJF","kind":"late","year":1974,"value":0.35},{"season":"DJF","kind":"late","year":1978,"value":0.2},{"season":"DJF","kind":"late","year":1981,"value":0.14},{"season":"DJF","kind":"late","year":1984,"value":0.11},{"season":"DJF","kind":"late","year":1987,"value":0.13},{"season":"DJF","kind":"late","year":1990,"value":0.17},

{"season":"JJA","kind":"late","year":1756,"value":0.6},{"season":"JJA","kind":"late","year":1760,"value":0.8},{"season":"JJA","kind":"late","year":1764,"value":1.02},{"season":"JJA","kind":"late","year":1767,"value":1.1},{"season":"JJA","kind":"late","year":1770,"value":1.0},{"season":"JJA","kind":"late","year":1774,"value":0.77},{"season":"JJA","kind":"late","year":1778,"value":0.5},{"season":"JJA","kind":"late","year":1781,"value":0.29},{"season":"JJA","kind":"late","year":1784,"value":0.1},{"season":"JJA","kind":"late","year":1787,"value":0.37},{"season":"JJA","kind":"late","year":1790,"value":0.58},{"season":"JJA","kind":"late","year":1794,"value":0.65},{"season":"JJA","kind":"late","year":1797,"value":0.58},{"season":"JJA","kind":"late","year":1801,"value":0.41},{"season":"JJA","kind":"late","year":1805,"value":0.3},{"season":"JJA","kind":"late","year":1808,"value":0.25},{"season":"JJA","kind":"late","year":1811,"value":0.38},{"season":"JJA","kind":"late","year":1815,"value":0.63},{"season":"JJA","kind":"late","year":1818,"value":0.95},{"season":"JJA","kind":"late","year":1822,"value":1.17},{"season":"JJA","kind":"late","year":1825,"value":1.0},{"season":"JJA","kind":"late","year":1829,"value":0.71},{"season":"JJA","kind":"late","year":1832,"value":0.52},{"season":"JJA","kind":"late","year":1834,"value":0.45},{"season":"JJA","kind":"late","year":1838,"value":0.5},{"season":"JJA","kind":"late","year":1841,"value":0.54},{"season":"JJA","kind":"late","year":1845,"value":0.58},{"season":"JJA","kind":"late","year":1848,"value":0.59},{"season":"JJA","kind":"late","year":1852,"value":0.57},{"season":"JJA","kind":"late","year":1855,"value":0.56},{"season":"JJA","kind":"late","year":1859,"value":0.55},{"season":"JJA","kind":"late","year":1863,"value":0.56},{"season":"JJA","kind":"late","year":1867,"value":0.6},{"season":"JJA","kind":"late","year":1870,"value":0.62},{"season":"JJA","kind":"late","year":1874,"value":0.55},{"season":"JJA","kind":"late","year":1877,"value":0.43},{"season":"JJA","kind":"late","year":1880,"value":0.32},{"season":"JJA","kind":"late","year":1882,"value":0.28},{"season":"JJA","kind":"late","year":1886,"value":0.35},{"season":"JJA","kind":"late","year":1889,"value":0.42},{"season":"JJA","kind":"late","year":1893,"value":0.35},{"season":"JJA","kind":"late","year":1898,"value":0.26},{"season":"JJA","kind":"late","year":1903,"value":0.4},{"season":"JJA","kind":"late","year":1908,"value":0.51},{"season":"JJA","kind":"late","year":1912,"value":0.42},{"season":"JJA","kind":"late","year":1915,"value":0.29},{"season":"JJA","kind":"late","year":1919,"value":0.15},{"season":"JJA","kind":"late","year":1922,"value":0.1},{"season":"JJA","kind":"late","year":1926,"value":0.22},{"season":"JJA","kind":"late","year":1929,"value":0.37},{"season":"JJA","kind":"late","year":1933,"value":0.65},{"season":"JJA","kind":"late","year":1937,"value":0.96},{"season":"JJA","kind":"late","year":1941,"value":1.12},{"season":"JJA","kind":"late","year":1944,"value":1.16},{"season":"JJA","kind":"late","year":1947,"value":1.05},{"season":"JJA","kind":"late","year":1951,"value":0.9},{"season":"JJA","kind":"late","year":1955,"value":0.88},{"season":"JJA","kind":"late","year":1958,"value":0.88},{"season":"JJA","kind":"late","year":1962,"value":0.85},{"season":"JJA","kind":"late","year":1965,"value":0.8},{"season":"JJA","kind":"late","year":1969,"value":0.7},{"season":"JJA","kind":"late","year":1972,"value":0.63},{"season":"JJA","kind":"late","year":1976,"value":0.62},{"season":"JJA","kind":"late","year":1979,"value":0.62},{"season":"JJA","kind":"late","year":1983,"value":0.66},{"season":"JJA","kind":"late","year":1986,"value":0.68},{"season":"JJA","kind":"late","year":1988,"value":0.66},{"season":"JJA","kind":"late","year":1990,"value":0.65},

{"season":"Annual","kind":"late","year":1758,"value":0.62},{"season":"Annual","kind":"late","year":1762,"value":0.72},{"season":"Annual","kind":"late","year":1766,"value":0.82},{"season":"Annual","kind":"late","year":1770,"value":0.87},{"season":"Annual","kind":"late","year":1773,"value":0.8},{"season":"Annual","kind":"late","year":1777,"value":0.63},{"season":"Annual","kind":"late","year":1781,"value":0.4},{"season":"Annual","kind":"late","year":1784,"value":0.2},{"season":"Annual","kind":"late","year":1788,"value":0.3},{"season":"Annual","kind":"late","year":1792,"value":0.39},{"season":"Annual","kind":"late","year":1796,"value":0.33},{"season":"Annual","kind":"late","year":1799,"value":0.27},{"season":"Annual","kind":"late","year":1803,"value":0.15},{"season":"Annual","kind":"late","year":1806,"value":0.03},{"season":"Annual","kind":"late","year":1810,"value":0.02},{"season":"Annual","kind":"late","year":1813,"value":0.05},{"season":"Annual","kind":"late","year":1817,"value":0.15},{"season":"Annual","kind":"late","year":1820,"value":0.28},{"season":"Annual","kind":"late","year":1823,"value":0.34},{"season":"Annual","kind":"late","year":1827,"value":0.22},{"season":"Annual","kind":"late","year":1832,"value":0.12},{"season":"Annual","kind":"late","year":1836,"value":0.15},{"season":"Annual","kind":"late","year":1841,"value":0.2},{"season":"Annual","kind":"late","year":1845,"value":0.25},{"season":"Annual","kind":"late","year":1849,"value":0.29},{"season":"Annual","kind":"late","year":1853,"value":0.27},{"season":"Annual","kind":"late","year":1856,"value":0.25},{"season":"Annual","kind":"late","year":1860,"value":0.26},{"season":"Annual","kind":"late","year":1863,"value":0.27},{"season":"Annual","kind":"late","year":1867,"value":0.32},{"season":"Annual","kind":"late","year":1870,"value":0.35},{"season":"Annual","kind":"late","year":1873,"value":0.25},{"season":"Annual","kind":"late","year":1877,"value":0.12},{"season":"Annual","kind":"late","year":1880,"value":0.04},{"season":"Annual","kind":"late","year":1882,"value":0.02},{"season":"Annual","kind":"late","year":1886,"value":0.07},{"season":"Annual","kind":"late","year":1889,"value":0.12},{"season":"Annual","kind":"late","year":1894,"value":0.24},{"season":"Annual","kind":"late","year":1898,"value":0.18},{"season":"Annual","kind":"late","year":1901,"value":0.14},{"season":"Annual","kind":"late","year":1905,"value":0.2},{"season":"Annual","kind":"late","year":1910,"value":0.31},{"season":"Annual","kind":"late","year":1915,"value":0.38},{"season":"Annual","kind":"late","year":1920,"value":0.45},{"season":"Annual","kind":"late","year":1925,"value":0.53},{"season":"Annual","kind":"late","year":1930,"value":0.63},{"season":"Annual","kind":"late","year":1935,"value":0.75},{"season":"Annual","kind":"late","year":1939,"value":0.84},{"season":"Annual","kind":"late","year":1942,"value":0.86},{"season":"Annual","kind":"late","year":1945,"value":0.8},{"season":"Annual","kind":"late","year":1948,"value":0.71},{"season":"Annual","kind":"late","year":1952,"value":0.66},{"season":"Annual","kind":"late","year":1956,"value":0.62},{"season":"Annual","kind":"late","year":1961,"value":0.55},{"season":"Annual","kind":"late","year":1965,"value":0.5},{"season":"Annual","kind":"late","year":1968,"value":0.47},{"season":"Annual","kind":"late","year":1972,"value":0.4},{"season":"Annual","kind":"late","year":1975,"value":0.35},{"season":"Annual","kind":"late","year":1978,"value":0.28},{"season":"Annual","kind":"late","year":1982,"value":0.2},{"season":"Annual","kind":"late","year":1985,"value":0.18},{"season":"Annual","kind":"late","year":1988,"value":0.21},{"season":"Annual","kind":"late","year":1990,"value":0.23}
],
"reference": [{"level": 0}]
},
"layer": [
{
"data": {"name": "reference"},
"mark": {"type": "rule", "color": "black", "strokeWidth": 2, "strokeDash": [5, 7]},
"encoding": {"y": {"field": "level", "type": "quantitative", "scale": {"domain": [-1.75, 2.446], "nice": false, "zero": false}, "axis": null}}
},
{
"data": {"name": "series"},
"transform": [{"filter": "datum.kind === 'full'"}],
"mark": {"type": "line", "strokeWidth": 7.5, "clip": true, "strokeJoin": "round", "strokeCap": "butt"},
"encoding": {
"x": {"field": "year", "type": "quantitative", "scale": {"domain": [1000, 1990], "nice": false, "zero": false},
 "axis": {"orient": "bottom", "values": [1000, 1200, 1400, 1600, 1800], "tickSize": -38, "tickWidth": 2.5, "tickColor": "black", "domain": false, "grid": false, "labelFlush": false, "labelOverlap": false, "labelBound": false, "labelFont": "Liberation Sans", "labelFontWeight": "bold", "labelFontSize": 50, "labelColor": "black", "labelPadding": 60, "labelExpr": "'' + datum.value",
 "title": "Year", "titleFont": "Liberation Sans", "titleFontWeight": "bold", "titleFontSize": 52, "titleColor": "black", "titleBaseline": "alphabetic", "titleY": 105}},
"y": {"field": "value", "type": "quantitative", "scale": {"domain": [-1.75, 2.446], "nice": false, "zero": false},
 "axis": {"orient": "left", "values": [-1, 0, 1, 2], "tickSize": -38, "tickWidth": 2.5, "tickColor": "black", "domain": false, "grid": false, "labelFlush": false, "labelOverlap": false, "labelBound": false, "labelFont": "Liberation Sans", "labelFontWeight": "bold", "labelFontSize": 50, "labelColor": "black", "labelPadding": 53, "labelExpr": "'' + datum.value",
 "title": "W/m^2", "titleFont": "Liberation Sans", "titleFontWeight": "bold", "titleFontSize": 52, "titleColor": "black", "titleAngle": 270, "titleBaseline": "alphabetic", "titleAlign": "center", "titleX": -84, "titleY": 367}},
"color": {"field": "season", "type": "nominal", "scale": {"domain": ["DJF", "JJA", "Annual"], "range": ["#0066ff", "#ff0000", "#000000"]},
 "legend": {"orient": "none", "legendX": 19, "legendY": 31, "title": null, "direction": "vertical", "symbolType": "M-4.33,0L4.33,0", "symbolSize": 729, "symbolStrokeWidth": 3, "symbolOffset": 65.5, "labelOffset": 62, "labelFont": "Liberation Sans", "labelFontWeight": "bold", "labelFontSize": 33, "labelColor": "black", "padding": 8, "strokeColor": "black", "fillColor": "white", "rowPadding": -2}}
}
},
{
"data": {"name": "series"},
"transform": [{"filter": "datum.kind === 'late'"}],
"mark": {"type": "line", "strokeWidth": 2, "clip": true},
"encoding": {
"x": {"field": "year", "type": "quantitative", "scale": {"domain": [1000, 1990], "nice": false, "zero": false},
 "axis": {"orient": "top", "values": [1200, 1400, 1600, 1800], "tickSize": -38, "tickWidth": 2.5, "tickColor": "black", "domain": false, "grid": false, "labels": false, "title": null}},
"y": {"field": "value", "type": "quantitative", "scale": {"domain": [-1.75, 2.446], "nice": false, "zero": false},
 "axis": {"orient": "right", "values": [-1, 0, 1, 2], "tickSize": -38, "tickWidth": 2.5, "tickColor": "black", "domain": false, "grid": false, "labels": false, "title": null}},
"color": {"field": "season", "type": "nominal", "scale": {"domain": ["DJF", "JJA", "Annual"], "range": ["#0066ff", "#ff0000", "#000000"]}}
}
},
{
"data": {"name": "series"},
"transform": [{"filter": "datum.kind === 'late'"}],
"mark": {"type": "line", "opacity": 0},
"encoding": {
"x": {"field": "year", "type": "quantitative", "scale": {"domain": [1000, 1990], "nice": false, "zero": false},
 "axis": {"orient": "bottom", "values": [1050, 1100, 1150, 1250, 1300, 1350, 1450, 1500, 1550, 1650, 1700, 1750, 1850, 1900, 1950], "tickSize": -19, "tickWidth": 2.5, "tickColor": "black", "domain": false, "grid": false, "labels": false, "title": null}},
"y": {"field": "value", "type": "quantitative", "scale": {"domain": [-1.75, 2.446], "nice": false, "zero": false},
 "axis": {"orient": "left", "values": [-1.7, -1.6, -1.5, -1.4, -1.3, -1.2, -1.1, -0.9, -0.8, -0.7, -0.6, -0.5, -0.4, -0.3, -0.2, -0.1, 0.1, 0.2, 0.3, 0.4, 0.5, 0.6, 0.7, 0.8, 0.9, 1.1, 1.2, 1.3, 1.4, 1.5, 1.6, 1.7, 1.8, 1.9, 2.1, 2.2, 2.3, 2.4], "tickSize": -19, "tickWidth": 2.5, "tickColor": "black", "domain": false, "grid": false, "labels": false, "title": null}}
}
},
{
"data": {"name": "series"},
"transform": [{"filter": "datum.kind === 'late'"}],
"mark": {"type": "line", "opacity": 0},
"encoding": {
"x": {"field": "year", "type": "quantitative", "scale": {"domain": [1000, 1990], "nice": false, "zero": false},
 "axis": {"orient": "top", "values": [1050, 1100, 1150, 1250, 1300, 1350, 1450, 1500, 1550, 1650, 1700, 1750, 1850, 1900, 1950], "tickSize": -19, "tickWidth": 2.5, "tickColor": "black", "domain": false, "grid": false, "labels": false, "title": null}},
"y": {"field": "value", "type": "quantitative", "scale": {"domain": [-1.75, 2.446], "nice": false, "zero": false},
 "axis": {"orient": "right", "values": [-1.7, -1.6, -1.5, -1.4, -1.3, -1.2, -1.1, -0.9, -0.8, -0.7, -0.6, -0.5, -0.4, -0.3, -0.2, -0.1, 0.1, 0.2, 0.3, 0.4, 0.5, 0.6, 0.7, 0.8, 0.9, 1.1, 1.2, 1.3, 1.4, 1.5, 1.6, 1.7, 1.8, 1.9, 2.1, 2.2, 2.3, 2.4], "tickSize": -19, "tickWidth": 2.5, "tickColor": "black", "domain": false, "grid": false, "labels": false, "title": null}}
}
}
],
"resolve": {"axis": {"x": "independent", "y": "independent"}}
}
